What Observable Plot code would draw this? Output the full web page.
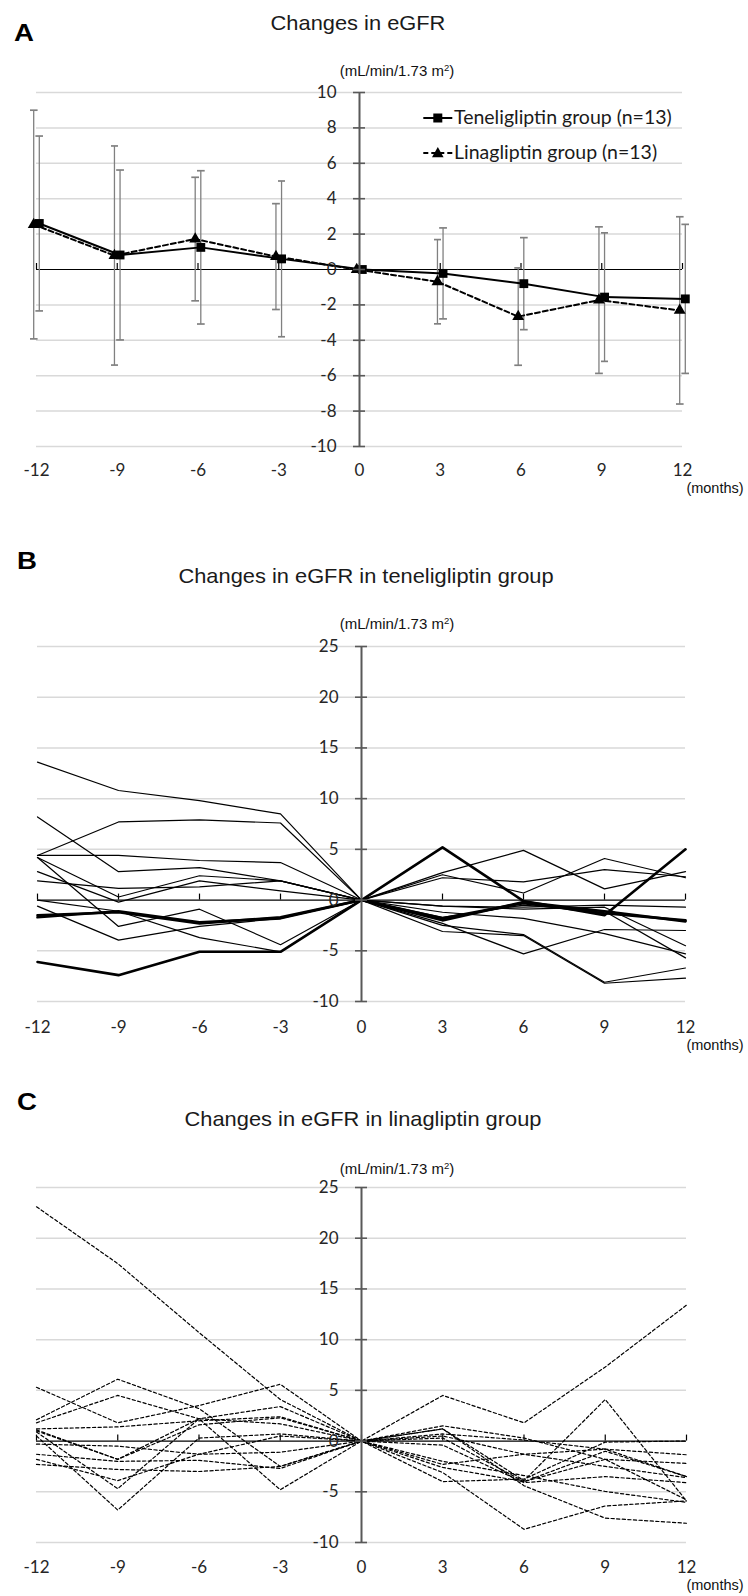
<!DOCTYPE html>
<html>
<head>
<meta charset="utf-8">
<script src="https://cdn.jsdelivr.net/npm/d3@7"></script>
<script src="https://cdn.jsdelivr.net/npm/@observablehq/plot@0.6"></script>
<style>
html, body { margin: 0; padding: 0; background: #fff; }
#page { position: relative; width: 748px; height: 1596px; overflow: hidden; font-family: "Liberation Sans", Arial, sans-serif; color: #111; }
.abs { position: absolute; white-space: nowrap; line-height: 1; }
.letter { font-weight: bold; font-size: 23px; transform-origin: left top; transform: scaleX(1.2); color: #000; }
.title { font-size: 21px; transform: translateX(-50%) scaleX(1.04); color: #1a1a1a; }
.unit { font-size: 15px; transform: translateX(-50%); color: #111; }
.unit sup { font-size: 9.5px; vertical-align: 5px; line-height: 0; }
.months { font-size: 14.5px; transform: translateX(-50%); color: #111; }
.legtext { font-family: Lato, sans-serif; font-size: 19.5px; color: #1a1a1a; }
svg.plot { position: absolute; left: 0; }
</style>
</head>
<body>
<div id="page"></div>
<script>
// ---------- data ----------
const months = [-12, -9, -6, -3, 0, 3, 6, 9, 12];
const monthLabels = ["-12", "-9", "-6", "-3", "0", "3", "6", "9", "12"];

// Panel A: mean change and SD
const teneMean = [2.60, 0.82, 1.25, 0.60, 0, -0.22, -0.80, -1.56, -1.66];
const teneSD   = [4.94, 4.80, 4.33, 4.40, 0, 2.57, 2.60, 3.63, 4.21];
const linaMean = [2.54, 0.79, 1.72, 0.73, 0, -0.69, -2.66, -1.73, -2.31];
const linaSD   = [6.46, 6.19, 3.49, 2.99, 0, 2.38, 2.75, 4.14, 5.29];
const yTicksA = [-10, -8, -6, -4, -2, 0, 2, 4, 6, 8, 10];

// Panel B: teneligliptin individual patients
const teneThin = [
  [13.6, 10.8, 9.8, 8.5, 0, 2.7, 4.9, 1.1, 2.8],
  [8.2, 2.8, 3.2, 1.9, 0, 2.2, 1.8, 3.0, 2.3],
  [4.4, 7.7, 7.9, 7.6, 0, 2.5, 0.7, 4.1, 2.2],
  [4.4, 4.4, 3.9, 3.7, 0, -0.6, -0.7, -0.5, -0.7],
  [4.2, 0.3, 2.4, 1.9, 0, -0.6, -0.9, -0.7, -4.5],
  [4.2, -2.6, -0.9, -4.4, 0, -1.2, -1.8, -3.3, -5.3],
  [2.8, -0.2, 1.9, 0.9, 0, -1.7, -0.5, -1.1, -5.7],
  [1.9, 1.15, 1.3, 1.9, 0, -2.3, -5.3, -2.9, -3.0],
  [0.0, -1.1, -3.7, -5.1, 0, -3.1, -3.5, -8.2, -7.7],
  [-0.6, -3.95, -2.6, -1.8, 0, -2.5, -3.4, -8.1, -6.7]
];
const teneBold = [
  [-6.1, -7.4, -5.1, -5.1, 0, 5.2, -0.1, -1.5, 5.0],
  [-1.5, -1.2, -2.3, -1.7, 0, -2.0, -0.2, -1.1, -2.1],
  [-1.7, -1.1, -2.2, -1.8, 0, -1.8, -0.3, -1.3, -2.0]
];
const yTicksBC = [-10, -5, 0, 5, 10, 15, 20, 25];

// Panel C: linagliptin individual patients
const linaLines = [
  [23.1, 17.5, 10.7, 4.1, 0, 4.5, 1.8, 7.3, 13.4],
  [5.3, 1.8, 3.5, 5.6, 0, 1.2, -3.9, 4.1, -5.9],
  [2.1, 6.1, 3.2, -2.5, 0, -4.0, -3.75, -0.1, 0.0],
  [1.8, 4.5, 2.2, 3.4, 0, -2.3, -1.3, -0.8, -1.35],
  [1.2, 1.4, 2.0, 2.4, 0, 1.5, 0.3, -1.8, -2.2],
  [1.0, -1.8, 1.6, 2.3, 0, 0.7, 0.1, -0.8, -3.5],
  [0.9, -4.7, 2.2, 1.7, 0, 0.5, -1.3, -2.5, -3.6],
  [0.5, -6.8, 0.3, 0.7, 0, -0.4, -4.1, -3.5, -4.1],
  [-0.3, -0.5, -1.3, -1.1, 0, -3.1, -8.7, -6.4, -5.9],
  [-1.3, -2.0, -1.9, -2.7, 0, 1.2, -4.4, -7.6, -8.1],
  [-2.3, -2.8, -3.0, -2.5, 0, -2.0, -3.4, -4.97, -6.05],
  [-1.8, -3.9, -1.3, 0.5, 0, 0.3, -4.0, -1.8, -5.8],
  [1.1, -1.8, 2.2, -4.8, 0, -2.6, -4.0, -1.0, -3.5]
];

const legendLabels = ["Teneligliptin group (n=13)", "Linagliptin group (n=13)"];

// ---------- helpers ----------
const page = document.getElementById("page");
const W = 748;
const toRows = (arr) => arr.flatMap((vals, i) => vals.map((v, j) => ({id: i, month: months[j], value: v})));
const fmt = (d) => monthLabels[months.indexOf(d)] ?? String(d);

function addText(cls, html, left, top) {
  const d = document.createElement("div");
  d.className = "abs " + cls;
  d.style.left = left + "px";
  d.style.top = top + "px";
  d.innerHTML = html;
  page.appendChild(d);
  return d;
}

function buildPanel({top, height, mL, mR, mT, mB, yDomain, yTicks, padX, marks}) {
  const half = (W - mL - mR) / 2;
  const el = Plot.plot({
    width: W, height,
    marginLeft: mL, marginRight: mR, marginTop: mT, marginBottom: mB,
    x: {domain: [-12, 12], label: null},
    y: {domain: yDomain, label: null},
    style: {fontFamily: "Lato, sans-serif", fontSize: "17px", color: "#262626", background: "transparent", overflow: "visible"},
    marks: [
      Plot.ruleY(yTicks.filter(v => v !== 0), {stroke: "#d9d9d9", strokeWidth: 1.5}),
      Plot.ruleY([0], {stroke: "#000", strokeWidth: 1.2}),
      Plot.ruleX(months, {y1: 0, y2: 0, insetTop: -6, stroke: "#000", strokeWidth: 1.2}),
      ...marks,
      Plot.ruleX([0], {y1: yDomain[0], y2: yDomain[1], stroke: "#595959", strokeWidth: 2}),
      Plot.ruleY(yTicks, {x1: 0, x2: 0, insetLeft: -6, insetRight: -6, stroke: "#595959", strokeWidth: 1.6}),
      Plot.axisY({ticks: yTicks, anchor: "left", dx: half, tickSize: 0, tickPadding: 23, tickFormat: d => String(d), label: null, fontSize: 17, fill: "#262626"}),
      Plot.axisX({ticks: months, anchor: "bottom", tickSize: 0, tickPadding: padX, tickFormat: fmt, label: null, fontSize: 17, fill: "#262626"})
    ]
  });
  el.classList.add("plot");
  el.style.position = "absolute";
  el.style.left = "0px";
  el.style.top = top + "px";
  page.appendChild(el);
}

// ---------- Panel A ----------
const aTene = months.map((m, i) => ({month: m, mean: teneMean[i], sd: teneSD[i]}));
const aLina = months.map((m, i) => ({month: m, mean: linaMean[i], sd: linaSD[i]}));
const off = 2.8;
buildPanel({
  top: 80, height: 400, mL: 36, mR: 66, mT: 12, mB: 34,
  yDomain: [-10, 10], yTicks: yTicksA, padX: 17.5,
  marks: [
    Plot.link(aLina.filter(d => d.sd > 0), {x1: "month", x2: "month", y1: d => d.mean - d.sd, y2: d => d.mean + d.sd, stroke: "#808080", strokeWidth: 1.3, markerStart: "tick", markerEnd: "tick", dx: -off}),
    Plot.link(aTene.filter(d => d.sd > 0), {x1: "month", x2: "month", y1: d => d.mean - d.sd, y2: d => d.mean + d.sd, stroke: "#808080", strokeWidth: 1.3, markerStart: "tick", markerEnd: "tick", dx: off}),
    Plot.line(aLina, {x: "month", y: "mean", stroke: "#000", strokeWidth: 2, strokeDasharray: "5,3", dx: -off}),
    Plot.line(aTene, {x: "month", y: "mean", stroke: "#000", strokeWidth: 2, dx: off}),
    Plot.dot(aLina, {x: "month", y: "mean", symbol: "triangle", r: 4.4, fill: "#000", stroke: "none", dx: -off}),
    Plot.dot(aTene, {x: "month", y: "mean", symbol: "square", r: 5, fill: "#000", stroke: "none", dx: off})
  ]
});

// ---------- Panel B ----------
buildPanel({
  top: 630, height: 410, mL: 37, mR: 63, mT: 16, mB: 39,
  yDomain: [-10, 25], yTicks: yTicksBC, padX: 19.5,
  marks: [
    Plot.line(toRows(teneThin), {x: "month", y: "value", z: "id", stroke: "#000", strokeWidth: 1.2}),
    Plot.line(toRows(teneBold), {x: "month", y: "value", z: "id", stroke: "#000", strokeWidth: 2.6})
  ]
});

// ---------- Panel C ----------
buildPanel({
  top: 1170, height: 410, mL: 36, mR: 62, mT: 17, mB: 38,
  yDomain: [-10, 25], yTicks: yTicksBC, padX: 18.5,
  marks: [
    Plot.line(toRows(linaLines), {x: "month", y: "value", z: "id", stroke: "#000", strokeWidth: 1.2, strokeDasharray: "3.2,2.4"})
  ]
});

// ---------- HTML text ----------
addText("letter", "A", 14, 22);
addText("letter", "B", 16.5, 550);
addText("letter", "C", 17, 1091);
addText("title", "Changes in eGFR", 358, 11.7);
addText("title", "Changes in eGFR in teneligliptin group", 366, 564.7);
addText("title", "Changes in eGFR in linagliptin group", 363, 1107.7);
const unitHTML = "(mL/min/1.73 m<sup>2</sup>)";
addText("unit", unitHTML, 397, 62.6);
addText("unit", unitHTML, 397, 615.6);
addText("unit", unitHTML, 397, 1160.6);
addText("months", "(months)", 715, 480.9);
addText("months", "(months)", 715, 1037.9);
addText("months", "(months)", 715, 1577.9);

// legend for panel A
function legendItem(label, cy, dashed, symbol) {
  const s = document.createElementNS("http://www.w3.org/2000/svg", "svg");
  s.setAttribute("width", 36); s.setAttribute("height", 14);
  s.style.position = "absolute"; s.style.left = "421px"; s.style.top = (cy - 7) + "px";
  const ln = document.createElementNS(s.namespaceURI, "line");
  ln.setAttribute("x1", 2.3); ln.setAttribute("x2", 31.3); ln.setAttribute("y1", 7); ln.setAttribute("y2", 7);
  ln.setAttribute("stroke", "#000"); ln.setAttribute("stroke-width", 2);
  if (dashed) ln.setAttribute("stroke-dasharray", "5,3");
  s.appendChild(ln);
  const sym = document.createElementNS(s.namespaceURI, "path");
  sym.setAttribute("d", d3.symbol(symbol === "square" ? d3.symbolSquare : d3.symbolTriangle, symbol === "square" ? 81 : 58)());
  sym.setAttribute("transform", `translate(16.8,${symbol === "square" ? 7 : 7.8})`);
  sym.setAttribute("fill", "#000");
  s.appendChild(sym);
  page.appendChild(s);
  addText("legtext", label, 454, cy - 10.3);
}
legendItem(legendLabels[0], 117.7, false, "square");
legendItem(legendLabels[1], 152.7, true, "triangle");
</script>
</body>
</html>
